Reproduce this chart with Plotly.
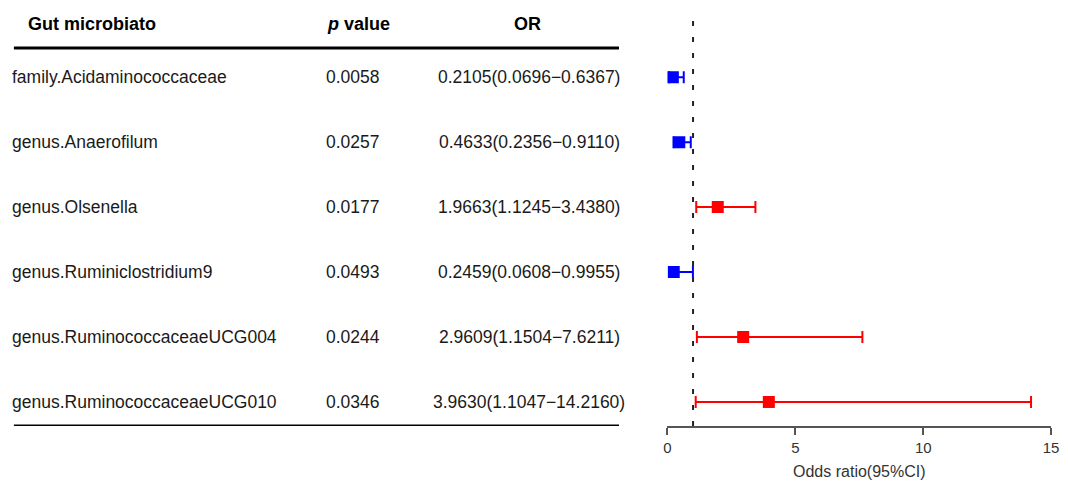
import plotly.graph_objects as go

names = ["family.Acidaminococcaceae", "genus.Anaerofilum", "genus.Olsenella",
         "genus.Ruminiclostridium9", "genus.RuminococcaceaeUCG004", "genus.RuminococcaceaeUCG010"]
pvals = ["0.0058", "0.0257", "0.0177", "0.0493", "0.0244", "0.0346"]
orv = [0.2105, 0.4633, 1.9663, 0.2459, 2.9609, 3.9630]
lo = [0.0696, 0.2356, 1.1245, 0.0608, 1.1504, 1.1047]
hi = [0.6367, 0.9110, 3.4380, 0.9955, 7.6211, 14.2160]
or_labels = ["0.2105(0.0696\u22120.6367)", "0.4633(0.2356\u22120.9110)", "1.9663(1.1245\u22123.4380)",
             "0.2459(0.0608\u22120.9955)", "2.9609(1.1504\u22127.6211)", "3.9630(1.1047\u221214.2160)"]
xticks = [0, 5, 10, 15]

W, H = 1068, 484
n = len(names)
ypos = [n - i for i in range(n)]
colors = ["#0000FF" if o < 1 else "#FF0000" for o in orv]
FONT = "Liberation Sans, Arial, sans-serif"

fig = go.Figure()
for i in range(n):
    fig.add_trace(go.Scatter(
        x=[orv[i]], y=[ypos[i]], mode="markers",
        marker=dict(symbol="square", size=12, color=colors[i], line=dict(width=0)),
        error_x=dict(type="data", symmetric=False, array=[hi[i] - orv[i]], arrayminus=[orv[i] - lo[i]],
                     color=colors[i], thickness=2, width=6),
        showlegend=False, hoverinfo="skip"))

px = lambda p: p / W
ymin, ymax = 0.630, 7.188

# reference line
fig.add_shape(type="line", xref="x", yref="y", x0=1, x1=1, y0=ymin, y1=7.03,
              line=dict(color="#222222", width=2, dash="5px,11px"))
# table lines
fig.add_shape(type="line", xref="paper", yref="y", x0=px(10), x1=px(622), y0=6.448, y1=6.448,
              line=dict(color="black", width=3))
fig.add_shape(type="line", xref="paper", yref="y", x0=px(10), x1=px(622), y0=ymin, y1=ymin,
              line=dict(color="black", width=3))

hdr_y = 6.82
hfont = dict(size=18, color="black", family=FONT)
bfont = dict(size=17.5, color="#1a1a1a", family=FONT)
fig.add_annotation(x=px(22), y=hdr_y, xref="paper", yref="y", text="<b>Gut microbiato</b>",
                   showarrow=False, xanchor="left", font=hfont)
fig.add_annotation(x=px(325), y=hdr_y, xref="paper", yref="y", text="<b><i>p</i> value</b>",
                   showarrow=False, xanchor="left", font=hfont)
fig.add_annotation(x=px(529), y=hdr_y, xref="paper", yref="y", text="<b>OR</b>",
                   showarrow=False, xanchor="center", font=hfont)
for i in range(n):
    fig.add_annotation(x=px(6), y=ypos[i], xref="paper", yref="y", text=names[i],
                       showarrow=False, xanchor="left", font=bfont)
    fig.add_annotation(x=px(324), y=ypos[i], xref="paper", yref="y", text=pvals[i],
                       showarrow=False, xanchor="left", font=bfont)
    fig.add_annotation(x=px(531), y=ypos[i], xref="paper", yref="y", text=or_labels[i],
                       showarrow=False, xanchor="center", font=bfont)

fig.update_layout(
    width=W, height=H, margin=dict(l=0, r=0, t=0, b=58),
    paper_bgcolor="white", plot_bgcolor="white",
    xaxis=dict(domain=[px(671), px(1059)], range=[0, 15], tickvals=xticks, ticks="outside", ticklen=7,
               tickwidth=1.5, tickcolor="#555", showline=True, linecolor="#555", linewidth=1.5,
               showgrid=False, zeroline=False, tickfont=dict(size=15, color="#333", family=FONT),
               title=dict(text="Odds ratio(95%CI)", font=dict(size=16, color="#333", family=FONT), standoff=11)),
    yaxis=dict(range=[ymin, ymax], visible=False, showgrid=False, zeroline=False),
)
fig.write_html("out.html")
